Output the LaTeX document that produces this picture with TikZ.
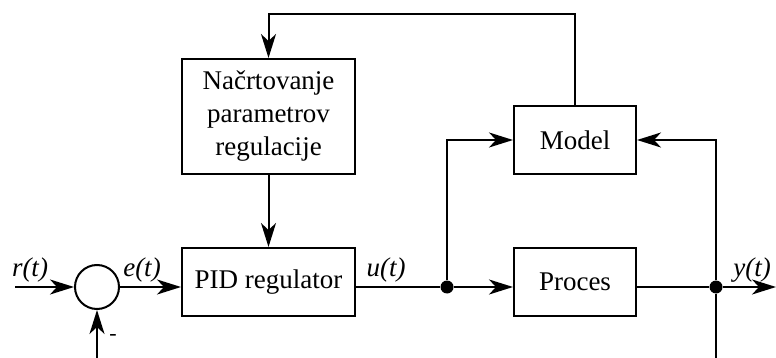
\documentclass[tikz,border=0pt]{standalone}
\usepackage{fontspec}
\setmainfont{Liberation Serif}
\usetikzlibrary{arrows.meta,calc}
\begin{document}
\begin{tikzpicture}[x=1pt,y=-1pt,
  every node/.style={font=\fontsize{27}{33}\selectfont},
  blockbox/.style={draw,line width=2pt,rectangle,inner sep=0pt,align=center},
  ln/.style={line width=2pt},
  arr/.style={line width=2pt,-{Stealth[length=24pt,width=15pt,inset=7pt]}},
  lbl/.style={font=\fontsize{27}{30}\selectfont\itshape,inner sep=0pt},
  dotn/.style={circle,fill=black,inner sep=0pt,minimum size=13pt}]
\useasboundingbox (0,0) rectangle (776,358);
\node[blockbox,minimum width=173pt,minimum height=115pt] (plan) at (268.5,116.5) {Načrtovanje\\parametrov\\regulacije};
\node[blockbox,minimum width=173pt,minimum height=68pt] (pid) at (268.5,282) {PID regulator};
\node[blockbox,minimum width=122pt,minimum height=68pt] (model) at (575,140) {Model};
\node[blockbox,minimum width=122pt,minimum height=68pt] (proc) at (575,282) {Proces};
\node[draw,circle,line width=2pt,minimum size=44pt,inner sep=0pt] (sum) at (97,287) {};
\node[dotn] (du) at (447,287) {};
\node[dotn] (dy) at (716,287) {};
\coordinate (rin) at (15,287);
\coordinate (yout) at (776,287);
\coordinate (top) at (0,14);
\coordinate (botL) at (97,358);
\coordinate (botR) at (716,358);
% connectors
\draw[arr] (rin) -- (sum.west);
\draw[arr] (sum.east) -- (sum.east -| pid.west);
\draw[ln] (du -| pid.east) -- (du);
\draw[arr] (du) -- (du -| proc.west);
\draw[ln] (du -| proc.east) -- (dy);
\draw[arr] (dy) -- (yout);
\draw[arr] (du) |- (model.west);
\draw[arr] (dy) |- (model.east);
\draw[ln] (dy) -- (botR);
\draw[arr] (botL) -- (sum.south);
\draw[arr] (plan.south) -- (pid.north);
\draw[arr] (model.north) -- (model.north |- top) -- (plan.north |- top) -- (plan.north);
% labels
\node[lbl] (lr) at (30,270) {r(t)};
\node[lbl] (le) at (142,270) {e(t)};
\node[lbl] (lu) at (386,270) {u(t)};
\node[lbl] (ly) at (752,270) {y(t)};
\node[font=\fontsize{22}{24}\selectfont,inner sep=0pt] (minus) at (113,337) {-};
\end{tikzpicture}
\end{document}
